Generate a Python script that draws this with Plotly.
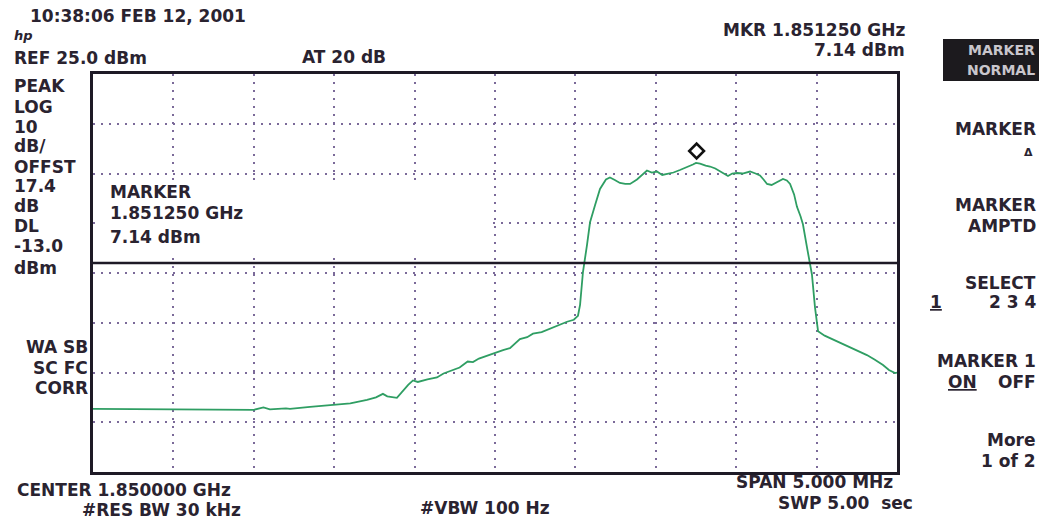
import plotly.graph_objects as go

# ---------------- data ----------------
freq_mhz = [1847.500, 1847.900, 1848.200, 1848.500, 1848.560, 1848.600, 1848.700,
            1848.725, 1848.850, 1849.017, 1849.100, 1849.204, 1849.260, 1849.303,
            1849.330, 1849.390, 1849.428, 1849.460, 1849.490, 1849.520, 1849.580,
            1849.639, 1849.680, 1849.720, 1849.780, 1849.830, 1849.863, 1849.900,
            1849.950, 1849.988, 1850.050, 1850.093, 1850.155, 1850.200, 1850.236,
            1850.290, 1850.342, 1850.400, 1850.448, 1850.490, 1850.516, 1850.529,
            1850.547, 1850.572, 1850.591, 1850.622, 1850.653, 1850.690, 1850.715,
            1850.745, 1850.777, 1850.810, 1850.840, 1850.883, 1850.920, 1850.945,
            1850.975, 1851.007, 1851.040, 1851.070, 1851.110, 1851.150, 1851.190,
            1851.231, 1851.250, 1851.275, 1851.310, 1851.337, 1851.370, 1851.399,
            1851.430, 1851.449, 1851.475, 1851.505, 1851.540, 1851.586, 1851.620,
            1851.648, 1851.670, 1851.692, 1851.720, 1851.754, 1851.791, 1851.815,
            1851.835, 1851.860, 1851.878, 1851.900, 1851.915, 1851.940, 1851.971,
            1851.990, 1852.009, 1852.050, 1852.102, 1852.150, 1852.208, 1852.260,
            1852.313, 1852.360, 1852.413, 1852.450, 1852.488, 1852.500]
level_dbm = [-42.3, -42.4, -42.4, -42.5, -42.0, -42.4, -42.2,
             -42.3, -41.9, -41.5, -41.2, -40.5, -40.0, -39.3,
             -39.8, -40.1, -38.6, -37.5, -36.6, -36.9, -36.4,
             -36.0, -35.2, -34.7, -34.0, -32.8, -32.9, -32.2,
             -31.6, -31.1, -30.5, -30.1, -28.3, -27.9, -27.2,
             -26.9, -26.2, -25.4, -24.8, -24.4, -23.6, -21.4,
             -14.8, -9.4, -4.8, -1.4, 1.9, 3.8, 4.2,
             3.7, 3.1, 2.9, 2.9, 3.8, 4.9, 5.6,
             5.2, 5.4, 4.7, 4.9, 5.2, 5.7, 6.2,
             6.8, 7.14, 7.0, 6.6, 6.4, 6.0, 5.5,
             4.9, 4.5, 5.0, 5.1, 5.0, 5.4, 5.0,
             4.6, 3.8, 2.9, 2.7, 3.2, 3.9, 3.6,
             2.9, 0.8, -1.7, -3.6, -5.2, -9.8, -15.3,
             -21.9, -26.7, -27.6, -28.4, -29.0, -30.0, -30.8,
             -31.5, -32.4, -33.5, -34.5, -35.1, -35.0]

center_mhz = 1850.0
span_mhz = 5.0
ref_level = 25.0
db_per_div = 10.0
n_vdiv = 8
n_hdiv = 10
display_line = -13.0
marker_freq = 1851.25
marker_level = 7.14

# ---------------- layout helpers ----------------
FW, FH = 1045, 523
L, T, R, B = 93, 74, 897, 472
W, PH = R - L, B - T


def px(x):
    return (x - L) / W


def py(y):
    return (B - y) / PH


FONT = "DejaVu Sans"
INK = "#2a2330"
FS = 17

fig = go.Figure()
fig.add_trace(go.Scatter(
    x=freq_mhz, y=level_dbm, mode="lines",
    line=dict(color="#2f9e63", width=1.8),
    hoverinfo="skip", showlegend=False))

x0 = center_mhz - span_mhz / 2
x1 = center_mhz + span_mhz / 2
y1 = ref_level
y0 = ref_level - n_vdiv * db_per_div

grid = dict(showgrid=True, gridcolor="#7b6a99", gridwidth=1.6, griddash="2px,6px",
            showline=True, linecolor="#1e1a26", linewidth=2.5, mirror=True,
            zeroline=False, showticklabels=False, ticks="", fixedrange=True)
fig.update_xaxes(range=[x0, x1], dtick=span_mhz / n_hdiv, tick0=x0, **grid)
fig.update_yaxes(range=[y0, y1], dtick=db_per_div, tick0=y0, **grid)

shapes = []
# blank region behind marker readout
shapes.append(dict(type="rect", xref="paper", yref="paper",
                   x0=px(95), x1=px(490), y0=py(257), y1=py(180),
                   fillcolor="white", line=dict(width=0), layer="above"))
# display line
shapes.append(dict(type="line", xref="paper", yref="y", x0=0, x1=1,
                   y0=display_line, y1=display_line,
                   line=dict(color="#1e1a26", width=2.5)))
# inverted soft key
shapes.append(dict(type="rect", xref="paper", yref="paper",
                   x0=px(943), x1=px(1039), y0=py(81), y1=py(39),
                   fillcolor="#1c1a1e", line=dict(width=0)))

ann = []


def text(s, x, y, anchor="left", size=FS, color=INK, bold=True, **kw):
    ann.append(dict(text=(f"<b>{s}</b>" if bold else s), xref="paper", yref="paper",
                    x=px(x), y=py(y), xanchor=anchor, yanchor="middle",
                    showarrow=False, font=dict(family=FONT, size=size, color=color, **kw)))


# header
text("10:38:06 FEB 12, 2001", 28, 16)
text("<i>hp</i>", 12, 36, size=13)
text("REF 25.0 dBm", 12, 58)
text("AT 20 dB", 300, 57)
text("MKR 1.851250 GHz", 907, 30, anchor="right")
text("7.14 dBm", 907, 50, anchor="right")

# left annotations
for s, y in [("PEAK", 86), ("LOG", 107), ("10", 127), ("dB/", 146), ("OFFST", 167),
             ("17.4", 186), ("dB", 206), ("DL", 226), ("-13.0", 246), ("dBm", 268)]:
    text(s, 12, y)
text("WA SB", 90, 347, anchor="right")
text("SC FC", 90, 368, anchor="right")
text("CORR", 90, 388, anchor="right")

# marker readout inside graticule
text("MARKER", 108, 192)
text("1.851250 GHz", 108, 213)
text("7.14 dBm", 108, 237)

# soft keys
text("MARKER", 1037, 50, anchor="right", color="#c9c6cc", size=14)
text("NORMAL", 1037, 70, anchor="right", color="#c9c6cc", size=14)
text("MARKER", 1038, 129, anchor="right")
text("Δ", 1035, 152, anchor="right", size=11)
text("MARKER", 1038, 205, anchor="right")
text("AMPTD", 1038, 226, anchor="right")
text("SELECT", 1038, 283, anchor="right")
text("2 3 4", 1038, 302, anchor="right")
text("1", 936, 302, anchor="center", lineposition="under")
text("MARKER 1", 1038, 361, anchor="right")
text("OFF", 1038, 382, anchor="right")
text("ON", 963, 382, anchor="center", lineposition="under")
text("More", 1038, 440, anchor="right")
text("1 of 2", 1038, 461, anchor="right")

# footer
text("CENTER 1.850000 GHz", 15, 490)
text("#RES BW 30 kHz", 80, 510)
text("#VBW 100 Hz", 418, 508)
text("SPAN 5.000 MHz", 895, 482, anchor="right")
text("SWP 5.00  sec", 915, 503, anchor="right")

# marker diamond drawn just above the trace point: rotated open square
ann.append(dict(text=" ", xref="x", yref="y", x=marker_freq, y=marker_level,
                yshift=12, showarrow=False, width=8, height=8, textangle=45,
                bordercolor="#111", borderwidth=2.6, borderpad=0, bgcolor="white",
                font=dict(family="DejaVu Sans", size=6)))

fig.update_layout(width=FW, height=FH, margin=dict(l=L, r=FW - R, t=T, b=FH - B),
                  paper_bgcolor="white", plot_bgcolor="white",
                  shapes=shapes, annotations=ann, showlegend=False)

fig.write_html("out.html", config={"displayModeBar": False},
               post_script="document.body.style.margin='0';document.body.style.overflow='hidden';")
